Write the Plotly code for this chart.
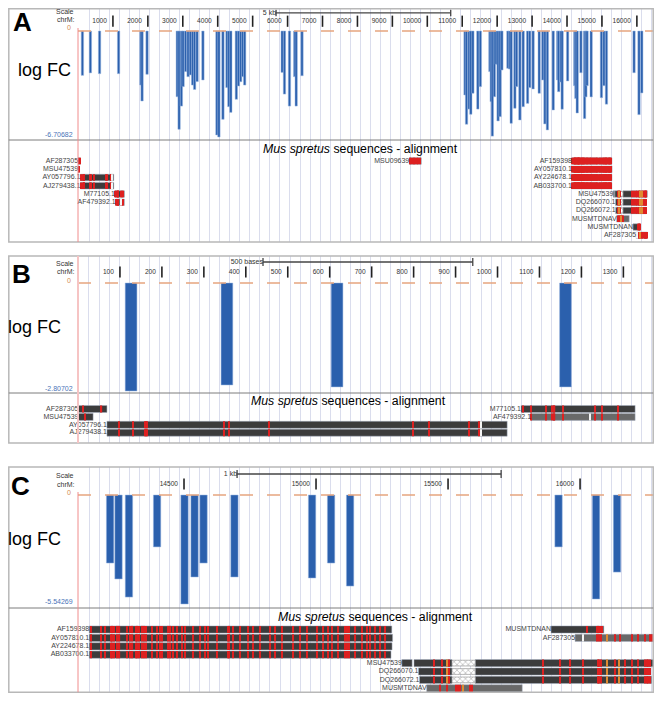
import plotly.graph_objects as go

W, H = 662, 701
OFF = 8                      # page body margin of the browser
FW, FH = W - 2 * OFF, H - 2 * OFF

# ---------------- data ----------------
# microarray probes on chrM: probe centre (bp) and log fold change
probe_mid = [126.5, 355, 617.5, 1162,
             1800, 1834, 1977, 2842, 2894, 2960, 3009, 3080, 3152, 3218, 3281, 3338, 3410, 3576,
             3977, 4034, 4149, 4264, 4318, 4375, 4533, 4593, 4656, 4713, 4771,
             5845, 5911, 6054, 6203, 6246, 6413,
             11080, 11123, 11195, 11246, 11304, 11447, 11519,
             11791, 11828, 11862, 11920, 11971, 12026, 12083, 12135,
             12307, 12355, 12401, 12507, 12556, 12650, 12745, 12871, 12931, 13029,
             13203, 13309, 13367, 13438, 13605, 13731, 13762, 13819, 13860, 14017,
             14220, 14252, 14291.5, 14398, 14502, 14540, 14574, 14691, 14985, 15057, 15129,
             15918.5, 16060.5, 16140]
probe_logfc = [-2.80702, -2.65, -2.70, -2.70,
               -3.42, -4.43, -2.74, -4.16, -6.22, -4.75, -3.52, -2.57, -2.89, -2.78, -3.42, -3.70, -3.20, -3.10,
               -6.58, -6.70682, -5.59, -3.58, -4.79, -5.15, -4.32, -3.48, -3.21, -2.89, -3.42,
               -2.62, -3.99, -4.75, -2.89, -4.75, -2.83,
               -4.05, -5.90, -4.94, -5.27, -3.94, -4.94, -3.52,
               -2.57, -4.47, -6.65, -4.16, -2.11, -5.69, -5.42, -2.47,
               -2.36, -2.41, -5.84, -4.89, -3.52, -5.63, -4.79, -4.58, -3.58, -3.67,
               -3.94, -3.10, -5.88, -6.26, -5.00, -3.10, -3.84, -3.23, -4.95, -3.16,
               -3.46, -4.27, -5.19, -2.64, -5.54269, -4.17, -3.46, -4.17, -4.22, -3.46, -4.63,
               -2.64, -5.29, -3.92]
assert len(probe_mid) == len(probe_logfc)

# track y-axis minima (labels)
track_min = [-6.70682, -2.80702, -5.54269]
track_min_text = ["-6.70682", "-2.80702", "-5.54269"]

# ruler tick labels per panel
tickvals_A = [1000, 2000, 3000, 4000, 5000, 6000, 7000, 8000, 9000, 10000, 11000, 12000, 13000, 14000, 15000, 16000]
tickvals_B = [100, 200, 300, 400, 500, 600, 700, 800, 900, 1000, 1100, 1200, 1300]
tickvals_C = [14500, 15000, 15500, 16000]

# scale bars: start, end (bp) and label
scalebar_start = [5670, 441, 14701]
scalebar_end = [10670, 941, 15701]
scalebar_text = ["5 kb", "500 bases", "1 kb"]

# view windows (bp)
view_range = [(0, 16490), (0, 1373), (14098.5, 16280)]

# Mus spretus alignments
aln_name = ["AF287305", "MSU47539", "AY057796.1", "AJ279438.1", "M77105.1", "AF479392.1",
            "MSU09639", "AF159398", "AY057810.1", "AY224678.1", "AB033700.1",
            "MSU47539", "DQ266070.1", "DQ266072.1", "MUSMTDNAV", "MUSMTDNAN", "AF287305"]
aln_segments = [
    [(1, 69, "dark")],
    [(1, 36, "dark")],
    [(69, 1023, "dark")],
    [(69, 1023, "dark")],
    [(1056, 1328, "dark")],
    [(1080, 1328, "mid")],
    [(9484, 9828, "dark")],
    [(14141, 15287, "dark")],
    [(14141, 15290, "dark")],
    [(14141, 15288, "dark")],
    [(14141, 15284, "dark")],
    [(15325, 15364, "dark"), (15371, 15515, "dark"), (15515, 15603, "gap"), (15603, 16299, "dark")],
    [(15388, 15515, "dark"), (15515, 15603, "gap"), (15603, 16267, "dark")],
    [(15392, 15515, "dark"), (15515, 15603, "gap"), (15603, 16271, "dark")],
    [(15419, 15781, "mid")],
    [(15890, 16090, "dark")],
    [(15981, 16299, "mid")],
]
mm_ayaj = [98, 131, 160, 162, 164, 348, 360, 455, 799, 837, 932, 956]
mm_m77 = [1061, 1080, 1116, 1131, 1134, 1136, 1156, 1232, 1249, 1287]
mm_u09 = [9500, 9540, 9580, 9620, 9660, 9700, 9745, 9790]
mm_left = [14148, 14186, 14201, 14222, 14229, 14236, 14248, 14256, 14285, 14295, 14305, 14317, 14324,
           14331, 14343, 14350, 14357, 14379, 14398, 14409, 14417, 14441, 14449, 14457, 14473, 14492,
           14504, 14534, 14561, 14580, 14591, 14625, 14666, 14672, 14686, 14712, 14742, 14761, 14788,
           14826, 14845, 14871, 14913, 14939, 14966, 15004, 15027, 15045, 15061, 15083, 15110, 15117,
           15125, 15148, 15174, 15193, 15205, 15223, 15242, 15261]
mm_dq = [15447, 15478, 15505, 15861, 15924, 15962, 16012, 16067, 16073, 16079, 16133, 16171, 16196,
         16221, 16245, 16252, 16258, 16264]
mm_v = [15470, 15495, 15530, 15537, 15545, 15583, 15590]
mm_n = [16025, 16063, 16070, 16077, 16082]
mm_af = [16064, 16072, 16080, 16133, 16151, 16197, 16220, 16246, 16265, 16272, 16280]
aln_mismatch = [[12, 56], [17], mm_ayaj, mm_ayaj, mm_m77, mm_m77[1:], mm_u09,
                mm_left, mm_left, mm_left, mm_left, mm_dq, mm_dq, mm_dq, mm_v, mm_n, mm_af]
aln_orange = [[], [], [], [], [], [], [], [], [], [], [],
              [15495, 16101, 16149], [15495, 16101, 16149], [15495, 16101, 16149], [15558], [], [16102]]
aln_white = [[], [], [960], [960], [], [1220], [], [], [], [], [], [], [], [], [], [], [16011]]
# row (line) each alignment occupies in each panel (None = not in view)
aln_row = [
    [0, 1, 2, 3, 4, 5, 0, 0, 1, 2, 3, 4, 5, 6, 7, 8, 9],
    [0, 1, 2, 3, 0, 1, None, None, None, None, None, None, None, None, None, None, None],
    [None, None, None, None, None, None, None, 0, 1, 2, 3, 4, 5, 6, 7, 0, 1],
]

# ---------------- styling / geometry (pixels in the 662x701 window) ----------------
FONT = "Liberation Sans, Arial, sans-serif"
GRID = "#dadded"
BLUE = "#2b60ad"
DARK = "#3c3c3c"
MID = "#696969"
RED = "#dd2020"
ORANGE = "#e08a30"
X0PX, X1PX = 78, 654

geo = [
    dict(letter="A", frame=(5, 4, 657, 242), base=31, minpx=137, sep=140, row0=161, step=8.25, boxpx=6.5,
         scale_y=10, tick_y=20, logfc=(44, 70), letterpos=(22, 22), title=(360, 149), bar_w=68, mark_px=1.0,
         grid=(315, 287.7), ticks=tickvals_A, redline_top=28, redline_col="#f08c8c", redline_w=1),
    dict(letter="B", frame=(4, 256, 657, 443), base=283, minpx=391, sep=393, row0=409, step=7.9, boxpx=7,
         scale_y=262, tick_y=272, logfc=(34, 327), letterpos=(21, 274), title=(348, 401), bar_w=28, mark_px=1.4,
         grid=(26.2, 23.96), ticks=tickvals_B, redline_top=256, redline_col="#f6c4c4", redline_w=2),
    dict(letter="C", frame=(4, 467, 657, 697), base=495, minpx=604, sep=608, row0=629.5, step=8.4, boxpx=7.2,
         scale_y=474, tick_y=484, logfc=(34, 539), letterpos=(20, 486), title=(375, 617), bar_w=28, mark_px=1.2,
         grid=(14140.2, 38.07), ticks=tickvals_C, redline_top=492, redline_col="#f08c8c", redline_w=1),
]

fig = go.Figure()
axes = {}
annotations = []
shapes = []
counter = [0]


def px2x(px):
    return min(max((px - OFF) / FW, 0.0), 1.0)


def px2y(px):
    return min(max(1 - (px - OFF) / FH, 0.0), 1.0)


def clampx(px):
    return min(max(px, OFF + 0.8), OFF + FW - 0.8)


def clampy(px):
    return min(max(px, OFF + 0.8), OFF + FH - 0.8)


def new_axes(x_range, y_range, top_px, bot_px, grid):
    counter[0] += 1
    n = counter[0]
    xs = "x" if n == 1 else f"x{n}"
    ys = "y" if n == 1 else f"y{n}"
    xk = "xaxis" if n == 1 else f"xaxis{n}"
    yk = "yaxis" if n == 1 else f"yaxis{n}"
    axes[xk] = dict(domain=[px2x(X0PX), px2x(X1PX)], range=list(x_range), anchor=ys,
                    showgrid=True, gridcolor=GRID, gridwidth=1, tickmode="linear",
                    tick0=grid[0], dtick=grid[1], showticklabels=False, ticks="",
                    zeroline=False, showline=False, fixedrange=True)
    axes[yk] = dict(domain=[px2y(bot_px), px2y(top_px)], range=list(y_range), anchor=xs,
                    showgrid=False, showticklabels=False, ticks="", zeroline=False,
                    showline=False, fixedrange=True)
    return xs, ys


def ann(text, x, y, size, color="#000", xanchor="center", bold=False):
    annotations.append(dict(text=f"<b>{text}</b>" if bold else text, x=px2x(x), y=px2y(y),
                            xref="paper", yref="paper", xanchor=xanchor, yanchor="middle",
                            showarrow=False, font=dict(family=FONT, size=size, color=color)))


for p, g in enumerate(geo):
    xr = view_range[p]
    fl, ft, fr, fb = g["frame"]
    bpp = (X1PX - X0PX) / (xr[1] - xr[0])  # px per bp

    # ---- header (ruler) subplot, y in pixel units
    hx, hy = new_axes(xr, (g["base"] - 4, ft), ft, g["base"] - 4, g["grid"])
    s0, s1, sy = scalebar_start[p], scalebar_end[p], g["scale_y"]
    fig.add_trace(go.Scatter(x=[s0, s0, None, s0, s1, None, s1, s1],
                             y=[sy - 4, sy + 4, None, sy, sy, None, sy - 4, sy + 4],
                             mode="lines", line=dict(color="#444", width=1.3), cliponaxis=False,
                             xaxis=hx, yaxis=hy, hoverinfo="skip", showlegend=False))
    fig.add_trace(go.Scatter(x=[s0], y=[sy], mode="text", text=[scalebar_text[p]],
                             textposition="middle left", cliponaxis=False,
                             textfont=dict(family=FONT, size=7, color="#333"),
                             xaxis=hx, yaxis=hy, hoverinfo="skip", showlegend=False))
    tv = g["ticks"]
    fig.add_trace(go.Scatter(x=tv, y=[g["tick_y"]] * len(tv), mode="markers+text",
                             text=[str(v) for v in tv], textposition="middle left",
                             marker=dict(symbol="line-ns", size=8, line=dict(color="#222", width=1.6)),
                             textfont=dict(family=FONT, size=6.6, color="#333"), cliponaxis=False,
                             xaxis=hx, yaxis=hy, hoverinfo="skip", showlegend=False))

    # ---- logFC bar subplot
    k = track_min[p] / (g["minpx"] - g["base"])
    yr = ((g["sep"] - g["base"]) * k, (-4) * k)
    bx, by = new_axes(xr, yr, g["base"] - 4, g["sep"], g["grid"])
    fig.add_trace(go.Scatter(x=[xr[0], xr[1]], y=[0, 0], mode="lines",
                             line=dict(color="#e6a57f", width=1.4, dash="13px,14px"),
                             xaxis=bx, yaxis=by, hoverinfo="skip", showlegend=False))
    sel = [(m, v) for m, v in zip(probe_mid, probe_logfc) if xr[0] <= m <= xr[1]]
    fig.add_trace(go.Bar(x=[m for m, _ in sel], y=[v for _, v in sel], width=g["bar_w"],
                         marker=dict(color=BLUE, line=dict(color="#9db8e3", width=0.5)),
                         xaxis=bx, yaxis=by, hoverinfo="skip", showlegend=False))

    # ---- alignment subplot, y in row units
    fb_eff = min(fb, OFF + FH)
    yr2 = ((fb_eff - g["row0"]) / g["step"], (g["sep"] - g["row0"]) / g["step"])
    ax_, ay_ = new_axes(xr, yr2, g["sep"], fb_eff, g["grid"])
    bw = g["boxpx"] / g["step"]
    minw = g["mark_px"] / bpp
    kinds = {"dark": ([], [], []), "mid": ([], [], []), "gap": ([], [], [])}
    marks = {"red": ([], [], []), "orange": ([], [], []), "white": ([], [], [])}
    lab_x, lab_y, lab_t = [], [], []
    for i, name in enumerate(aln_name):
        r = aln_row[p][i]
        if r is None:
            continue
        segs = aln_segments[i]
        for (a, b, kind) in segs:
            kinds[kind][0].append(r)
            kinds[kind][1].append(b - a)
            kinds[kind][2].append(a)
        lab_x.append(segs[0][0])
        lab_y.append(r)
        lab_t.append(name)
        for key, lst in (("red", aln_mismatch[i]), ("orange", aln_orange[i]), ("white", aln_white[i])):
            for pos in lst:
                w = max(1, minw)
                marks[key][0].append(r)
                marks[key][1].append(w)
                marks[key][2].append(pos - w / 2)
    for kind, col in (("dark", DARK), ("mid", MID)):
        ys_, ls_, bs_ = kinds[kind]
        if ys_:
            fig.add_trace(go.Bar(y=ys_, x=ls_, base=bs_, orientation="h", width=bw,
                                 marker=dict(color=col, line=dict(color="#a7b1c2", width=0.5)),
                                 xaxis=ax_, yaxis=ay_, hoverinfo="skip", showlegend=False))
    ys_, ls_, bs_ = kinds["gap"]
    if ys_:
        fig.add_trace(go.Bar(y=ys_, x=ls_, base=bs_, orientation="h", width=bw * 0.8,
                             marker=dict(color="white", line=dict(color="#777", width=0.5),
                                         pattern=dict(shape="x", fgcolor="#666", size=4, solidity=0.3)),
                             xaxis=ax_, yaxis=ay_, hoverinfo="skip", showlegend=False))
    for key, col in (("red", RED), ("orange", ORANGE), ("white", "#f4f4f4")):
        ys_, ls_, bs_ = marks[key]
        if ys_:
            fig.add_trace(go.Bar(y=ys_, x=ls_, base=bs_, orientation="h", width=bw,
                                 marker=dict(color=col, line=dict(width=0)),
                                 xaxis=ax_, yaxis=ay_, hoverinfo="skip", showlegend=False))
    fig.add_trace(go.Scatter(x=lab_x, y=lab_y, mode="text", text=lab_t, textposition="middle left",
                             textfont=dict(family=FONT, size=7, color="#444"), cliponaxis=False,
                             xaxis=ax_, yaxis=ay_, hoverinfo="skip", showlegend=False))

    # ---- frame, separator, red left line
    shapes.append(dict(type="rect", xref="paper", yref="paper", x0=px2x(clampx(fl)), x1=px2x(clampx(fr)),
                       y0=px2y(clampy(fb)), y1=px2y(clampy(ft)), line=dict(color="#b8b8b8", width=1.5)))
    shapes.append(dict(type="line", xref="paper", yref="paper", x0=px2x(clampx(fl)), x1=px2x(clampx(fr)),
                       y0=px2y(g["sep"]), y1=px2y(g["sep"]), line=dict(color="#7d7d7d", width=1)))
    shapes.append(dict(type="line", xref="paper", yref="paper", x0=px2x(X0PX), x1=px2x(X0PX),
                       y0=px2y(g["redline_top"]), y1=px2y(clampy(fb)),
                       line=dict(color=g["redline_col"], width=g["redline_w"])))

    # ---- labels
    ann("Scale", 76, g["scale_y"] + 1, 7, "#333", "right")
    ann("chrM:", 77, g["tick_y"], 7, "#333", "right")
    ann("0", 73, g["base"] - 3, 7, "#d4894f", "right")
    ann(track_min_text[p], 75, g["minpx"] - 3, 7, "#4a74b8", "right")
    ann("log FC", g["logfc"][0], g["logfc"][1], 18, "#000")
    ann(g["letter"], g["letterpos"][0], g["letterpos"][1], 26, "#000", bold=True)
    ann("<i>Mus spretus</i> sequences - alignment", g["title"][0], g["title"][1], 12.3, "#000")

fig.update_layout(width=FW, height=FH, autosize=False, margin=dict(l=0, r=0, t=0, b=0),
                  paper_bgcolor="white", plot_bgcolor="white", barmode="overlay",
                  showlegend=False, annotations=annotations, shapes=shapes, **axes)
fig.write_html("out.html")
